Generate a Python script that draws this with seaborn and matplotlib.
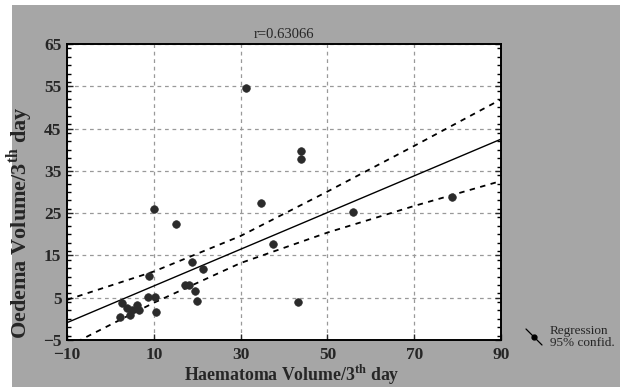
import numpy as np
import pandas as pd
import seaborn as sns
import matplotlib
matplotlib.use("Agg")
import matplotlib.pyplot as plt
from matplotlib.lines import Line2D
from matplotlib.patches import Rectangle
from matplotlib.ticker import MultipleLocator, FixedLocator

# ---- data ----
haematoma = [31.2, 44.0, 44.0, 10.1, 15.1, 34.8, 55.8, 37.5, 78.8, 43.3,
             18.9, 21.3, 8.9, 17.2, 18.0, 19.6, 19.9, 8.6, 10.3, 10.5,
             2.6, 3.8, 4.9, 6.1, 6.7, 4.5, 2.1]
oedema = [54.5, 39.6, 37.7, 25.9, 22.4, 27.5, 25.2, 17.6, 28.7, 4.1,
          13.4, 11.8, 10.2, 8.0, 8.0, 6.7, 4.3, 5.1, 5.1, 1.7,
          3.7, 2.5, 2.1, 3.3, 2.1, 0.9, 0.4]
# regression line and 95% confidence curves
reg_x = [-10, 90]
reg_y = [-0.9, 42.5]
ci_x = [-10, 10, 30, 50, 70, 90]
ci_upper = [4.5, 11.2, 19.6, 30.1, 40.9, 51.9]
ci_lower = [-6.6, 3.8, 13.2, 20.4, 26.7, 32.6]

x_ticks = [-10, 10, 30, 50, 70, 90]
y_ticks = [-5, 5, 15, 25, 35, 45, 55, 65]
title_text = "r=0.63066"
legend_lines = ["Regression", "95% confid."]

df = pd.DataFrame({"Haematoma": haematoma, "Oedema": oedema})
reg_df = pd.DataFrame({"x": reg_x, "y": reg_y})
ci_df = pd.DataFrame({"x": ci_x, "upper": ci_upper, "lower": ci_lower})

sns.set_style("white")
plt.rcParams["font.family"] = ["Liberation Serif", "DejaVu Serif"]
plt.rcParams["mathtext.fontset"] = "custom"
plt.rcParams["mathtext.rm"] = "Liberation Serif"
plt.rcParams["mathtext.bf"] = "Liberation Serif:bold"

fig = plt.figure(figsize=(6.2, 3.87), dpi=100, facecolor="white")
fig.add_artist(Rectangle((12 / 620, 0), 1, 1 - 5 / 387, transform=fig.transFigure,
                         facecolor="#a6a6a6", edgecolor="none", zorder=-10))
ax = fig.add_axes([67 / 620, 1 - 340 / 387, (501 - 67) / 620, (340 - 44) / 387])
ax.set_facecolor("white")

sns.lineplot(data=reg_df, x="x", y="y", ax=ax, color="black", lw=1.0, zorder=3)
sns.lineplot(data=ci_df, x="x", y="upper", ax=ax, color="black", lw=1.3,
             ls=(0, (3, 3)), zorder=3)
sns.lineplot(data=ci_df, x="x", y="lower", ax=ax, color="black", lw=1.3,
             ls=(0, (3, 3)), zorder=3)

sns.scatterplot(data=df, x="Haematoma", y="Oedema", ax=ax, color="#2b2b2b",
                s=30, marker="o", edgecolor="#2b2b2b", linewidth=0.5, zorder=4)

ax.set_xlim(-10, 90)
ax.set_ylim(-5, 65)
ax.xaxis.set_major_locator(FixedLocator(x_ticks))
ax.yaxis.set_major_locator(FixedLocator(y_ticks))
ax.yaxis.set_minor_locator(MultipleLocator(2))
ax.grid(True, which="major", color="#999999", ls=(0, (3, 3)), lw=0.9)
ax.tick_params(axis="y", which="minor", direction="in", length=3, width=1,
               left=True, right=True, color="black")
ax.tick_params(axis="y", which="major", direction="in", length=4, width=1,
               left=True, right=True)
ax.tick_params(axis="x", which="major", direction="in", length=4, width=1,
               bottom=True, top=False)
ax.tick_params(axis="y", labelsize=12.5, pad=4)
ax.tick_params(axis="x", labelsize=12.5, pad=5)
for lab in ax.get_xticklabels() + ax.get_yticklabels():
    lab.set_fontweight("bold")
for sp in ax.spines.values():
    sp.set_color("black")
    sp.set_linewidth(1.4)

ax.set_xlabel(r"Haematoma Volume/3$^{\mathbf{th}}$ day", fontsize=12.8,
              fontweight="bold")
ax.xaxis.set_label_coords(0.518, -0.078)
ax.set_ylabel(r"Oedema Volume/3$^{\mathbf{th}}$ day", fontsize=16,
              fontweight="bold")
ax.yaxis.set_label_coords(-0.074, 0.397)
ax.set_title(title_text, fontsize=10.5, pad=4)

# legend key
fig.add_artist(Line2D([526 / 620, 542 / 620], [1 - 329 / 387, 1 - 345 / 387],
                      transform=fig.transFigure, color="black", lw=0.9))
fig.add_artist(Line2D([533.7 / 620], [1 - 336.7 / 387], transform=fig.transFigure,
                      marker="o", markersize=3.5, color="black", lw=0))
fig.text(550 / 620, 1 - 331 / 387, legend_lines[0], fontsize=9.5, va="center", ha="left")
fig.text(550 / 620, 1 - 343 / 387, legend_lines[1], fontsize=9.5, va="center", ha="left")

fig.savefig("out.png", dpi=100, facecolor=fig.get_facecolor())
